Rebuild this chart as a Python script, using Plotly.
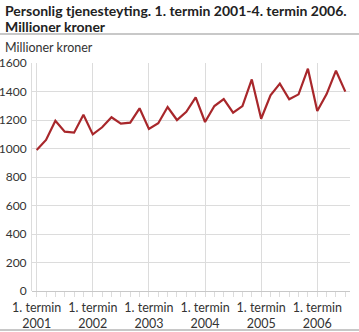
import plotly.graph_objects as go

years = ["2001", "2002", "2003", "2004", "2005", "2006"]
terms_per_year = 6
values = [
    990, 1060, 1195, 1118, 1111, 1237,
    1099, 1149, 1219, 1174, 1181, 1282,
    1137, 1177, 1291, 1200, 1258, 1359,
    1186, 1298, 1347, 1251, 1298, 1485,
    1209, 1373, 1455, 1345, 1380, 1560,
    1263, 1382, 1546, 1399,
]
y_ticks = [0, 200, 400, 600, 800, 1000, 1200, 1400, 1600]

W, H = 359, 332
ML, MR, MT, MB = 32, 9, 63, 41
pw, ph = W - ML - MR, H - MT - MB

def px_x(p):
    return (p - ML) / pw

def px_y(p):
    return (H - MB - p) / ph

x = list(range(len(values)))
tickvals = [i * terms_per_year for i in range(len(years))]
ticktext = [f"1. termin<br>{y}" for y in years]

font = "Lato, Noto Sans, sans-serif"
text_col = "#333333"
grid_col = "#dcdcdc"

fig = go.Figure(go.Scatter(
    x=x, y=values, mode="lines",
    line=dict(color="#a8272b", width=2.2),
    hoverinfo="skip",
))

fig.update_layout(
    width=W, height=H,
    margin=dict(l=ML, r=MR, t=MT, b=MB, autoexpand=False),
    paper_bgcolor="white", plot_bgcolor="white",
    showlegend=False,
    font=dict(family=font, size=12, color=text_col),
    xaxis=dict(
        range=[-0.5, len(values) - 0.5],
        tickvals=tickvals, ticktext=ticktext,
        showgrid=True, gridcolor=grid_col, gridwidth=1,
        ticks="outside", ticklen=5, tickcolor=grid_col,
        minor=dict(dtick=1, tick0=0, ticks="outside", ticklen=5,
                   tickcolor=grid_col, showgrid=False),
        showline=False, zeroline=False,
        tickfont=dict(size=12.5, color=text_col),
        automargin=False,
        fixedrange=True,
    ),
    yaxis=dict(
        range=[0, 1600], tickvals=y_ticks,
        showgrid=True, gridcolor=grid_col, gridwidth=1,
        showline=True, linecolor=grid_col, linewidth=1,
        zeroline=True, zerolinecolor="#c8c8c8", zerolinewidth=1,
        ticks="", tickfont=dict(size=12, color=text_col),
        ticklabelstandoff=2,
        automargin=False,
        fixedrange=True,
    ),
    shapes=[
        dict(type="line", xref="paper", yref="paper",
             x0=px_x(0), x1=px_x(W), y0=px_y(34), y1=px_y(34),
             line=dict(color="#c8c8c8", width=2)),
        dict(type="line", xref="paper", yref="paper",
             x0=px_x(0), x1=px_x(W), y0=px_y(330), y1=px_y(330),
             line=dict(color="#c8c8c8", width=2)),
    ],
    annotations=[
        dict(text="<b>Personlig tjenesteyting. 1. termin 2001-4. termin 2006.</b>",
             xref="paper", yref="paper", x=px_x(3), y=px_y(11),
             xanchor="left", yanchor="middle", showarrow=False,
             font=dict(size=14, color="#222222", family=font)),
        dict(text="<b>Millioner kroner</b>",
             xref="paper", yref="paper", x=px_x(3), y=px_y(26),
             xanchor="left", yanchor="middle", showarrow=False,
             font=dict(size=14, color="#222222", family=font)),
        dict(text="Millioner kroner",
             xref="paper", yref="paper", x=px_x(3), y=px_y(47),
             xanchor="left", yanchor="middle", showarrow=False,
             font=dict(size=12.5, color=text_col, family=font)),
    ],
)

fig.write_html("out.html")
